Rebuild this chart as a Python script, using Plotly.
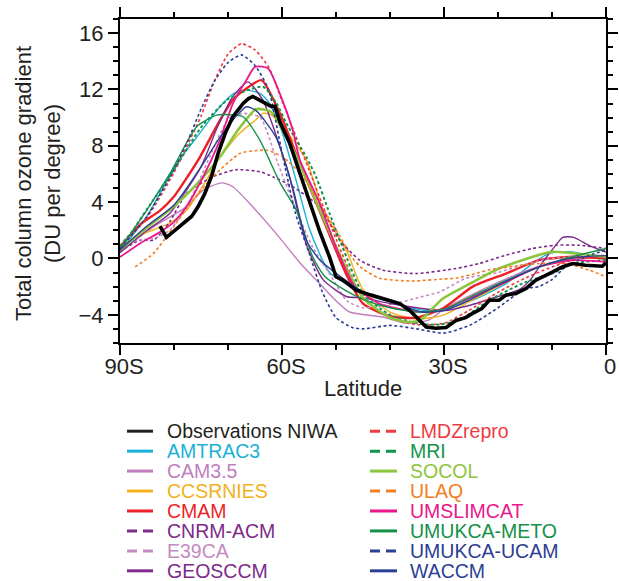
import plotly.graph_objects as go

# ---------------- data ----------------
lat_obs = [-82.6, -81.4, -79.5, -76.7, -75.5, -74.3, -73.0, -71.8, -70.5, -69.1, -67.2, -66.2, -65.4,
           -64.1, -62.9, -62.0, -61.3, -60.4, -58.6, -56.7, -54.3, -53.0, -51.2, -50.0, -48.7, -46.3,
           -43.5, -41.3, -38.2, -36.4, -34.5, -33.3, -31.5, -29.6, -27.8, -26.0, -24.7, -23.0, -21.6,
           -19.8, -18.5, -16.7, -14.8, -13.0, -10.5, -8.1, -6.2, -3.8, -0.7, 0.0]
obs = [2.3, 1.5, 2.1, 3.0, 3.7, 4.6, 5.9, 7.5, 8.9, 10.06, 11.0, 11.35, 11.5,
       11.24, 11.0, 10.8, 10.8, 9.7, 8.2, 6.1, 3.3, 1.9, 0.1, -1.3, -1.54, -2.25,
       -2.6, -2.84, -3.2, -3.67, -4.38, -4.86, -4.95, -4.9, -4.4, -4.2, -3.9, -3.55, -2.96,
       -2.96, -2.6, -2.49, -2.13, -1.54, -1.07, -0.6, -0.36, -0.48, -0.55, -0.3]

lat_amtrac3 = [-90, -85, -79.5, -75.8, -71.5, -69, -66.6, -64, -62.3, -60, -57, -55, -53, -51.2, -45,
               -38.9, -33.9, -30, -24.7, -18.5, -13.6, -10.5, -6.2, 0]
amtrac3 = [0.5, 3.0, 6.75, 8.6, 10.77, 11.7, 11.95, 11.7, 11.0, 9.0, 5.0, 2.2, 0.3, -1.0, -2.49,
           -3.2, -3.67, -3.6, -2.96, -1.78, -0.36, 0.36, 0.47, -0.1]

lat_cam35 = [-90, -83.8, -77.7, -74.6, -71.2, -69.1, -65.4, -61.1, -56.7, -53, -50, -47.5, -41.4,
             -37, -33, -30, -25, -20, -15, -10, -5, 0]
cam35 = [0.5, 2.24, 3.66, 4.85, 5.37, 5.09, 3.66, 1.78, -0.3, -1.8, -3.0, -3.8, -4.15,
         -4.6, -4.4, -3.6, -2.6, -1.7, -0.9, -0.3, 0.0, 0.1]

lat_ccsrnies = [-90, -86.3, -80.8, -77.7, -74, -71.5, -67.8, -65, -63.5, -62, -60.4, -55.5, -52.4,
                -48, -45, -40, -35, -30, -25, -20, -15, -10, -5, 0]
ccsrnies = [0.7, 1.65, 2.5, 3.4, 5.56, 7.2, 8.9, 9.8, 10.3, 10.2, 9.6, 7.0, 3.4,
            0.5, -2.2, -3.8, -4.3, -4.0, -3.0, -2.0, -1.0, -0.3, 0.1, 0.2]

lat_cmam = [-90, -86.3, -82.6, -80, -77.5, -75.2, -71.5, -69, -66.6, -63.8, -60.4, -56.7, -51.8,
            -48, -45, -40, -35, -30, -24.7, -18.5, -12.4, -6.3, 0]
cmam = [0.8, 2.4, 3.4, 4.4, 5.8, 7.2, 9.8, 11.3, 12.07, 12.66, 10.3, 6.75, 2.24,
        -1.2, -3.2, -4.1, -4.2, -3.5, -2.0, -1.07, -0.12, 0.12, 0.0]

lat_cnrm = [-90, -86.3, -83.8, -80.8, -77.7, -72.8, -68.5, -64, -61.7, -58, -53, -49.3, -45.6,
            -41.3, -35.2, -27.8, -23.5, -18.5, -13.6, -9.3, -5, 0]
cnrm = [0.5, 1.3, 1.3, 2.6, 4.6, 5.8, 6.3, 6.15, 5.8, 5.1, 3.66, 1.3, -0.12,
        -0.83, -1.07, -0.71, -0.36, 0.24, 0.71, 0.94, 0.94, 0.71]

lat_e39ca = [-90, -86.9, -83.8, -80.8, -77.5, -75, -72.5, -69.7, -67, -64, -61, -58, -54.3, -51,
             -48, -45, -42, -38, -35, -30.8, -25.9, -20, -15, -10, -5, 0]
e39ca = [0.6, 1.3, 1.42, 2.0, 3.8, 5.8, 8.0, 10.0, 10.3, 10.0, 7.0, 4.0, 0.8, -1.2,
         -3.0, -3.5, -3.4, -3.1, -2.8, -2.37, -1.4, -1.0, -0.4, 0.0, 0.15, 0.24]

lat_geosccm = [-90, -85, -80.8, -75, -72, -69.1, -66.3, -63.5, -60, -58.6, -55.5, -52.4, -48.1,
               -45, -40, -35, -30, -25, -20, -16, -14, -12, -10, -8, -6, -3, 0]
geosccm = [0.4, 2.0, 3.2, 6.5, 9.3, 11.5, 12.54, 11.2, 7.5, 5.8, 1.0, -1.5, -2.7,
           -2.8, -3.2, -3.5, -3.7, -3.3, -2.7, -2.2, -1.5, -0.4, 0.6, 1.5, 1.5, 0.9, 0.45]

lat_lmdz = [-90, -85, -80, -75, -72.5, -70, -67.5, -65, -62.5, -60, -55, -50, -45, -40, -35, -30,
            -25, -20, -15, -10, -5, 0]
lmdz = [0.8, 2.9, 6.1, 10.1, 12.6, 14.5, 15.25, 14.8, 13.6, 11.2, 6.3, 1.4, -2.8, -4.2, -4.7, -4.6,
        -3.6, -2.4, -1.4, -0.6, 0.0, 0.2]

lat_mri = [-90, -87.6, -85, -80, -75, -70, -66, -63.5, -61, -59.2, -55.5, -53.7, -51.2, -48.8, -45,
           -40, -35, -31, -27.2, -21.6, -15.5, -9.3, -6.3, 0]
mri = [0.9, 2.0, 3.5, 6.3, 9.3, 11.3, 12.0, 12.19, 11.0, 9.6, 7.2, 5.8, 3.2, 0.82, -2.5,
       -4.0, -4.6, -4.7, -4.38, -2.96, -1.78, -0.95, -0.36, -0.12]

lat_socol = [-90, -85, -80, -75, -71.5, -68, -64.8, -62, -60, -57, -54.3, -49.4, -45, -40, -37,
             -34.5, -30.2, -25, -19.8, -10, -3.1, 0]
socol = [0.6, 2.2, 3.7, 5.6, 7.2, 9.2, 10.6, 10.4, 9.2, 7.0, 4.6, 0.36, -2.8, -4.2, -4.5,
         -4.4, -2.84, -1.75, -0.71, 0.47, 0.24, 0.12]

lat_ulaq = [-87.2, -83.8, -80.1, -76.5, -72.8, -67.8, -65, -62.9, -59.8, -56.1, -52.4, -49.3, -46.9,
            -45, -42, -36, -30, -27.8, -23.5, -21.6, -12.4, -7.5, -3.1, 0]
ulaq = [-0.6, 0.36, 2.24, 4.14, 5.8, 7.46, 7.65, 7.7, 7.2, 5.8, 3.5, 1.6, 0.0,
        -0.75, -1.4, -1.6, -1.45, -1.4, -1.0, -0.8, -0.36, -0.36, -0.83, -1.3]

lat_umslimcat = [-90, -86.3, -82.5, -80, -77.5, -75, -71.5, -69.1, -66.6, -65, -62.6, -60.4, -58,
                 -56.7, -53, -50, -46.5, -42, -38, -34, -30, -24.7, -18.5, -12.4, -6.3, 0]
umslimcat = [0.1, 1.07, 1.9, 2.6, 3.8, 5.5, 8.4, 11.0, 12.66, 13.6, 13.5, 11.7, 9.1,
             7.0, 3.9, 0.8, -2.0, -3.2, -3.6, -3.8, -3.6, -2.73, -1.66, -0.6, -0.12, -0.24]

lat_meto = [-90, -87.6, -85.1, -80.8, -75.8, -72.1, -69.5, -67.2, -64.1, -60.4, -57.3, -54.3, -52,
            -48.1, -45, -40, -35, -30, -25, -20, -15, -10, -6.3, 0]
meto = [0.6, 2.0, 3.4, 6.0, 9.35, 10.18, 10.2, 10.06, 8.4, 5.4, 3.4, 0.1, -1.3,
        -2.3, -2.9, -3.5, -3.8, -3.6, -2.7, -1.8, -1.0, -0.3, 0.12, 0.71]

lat_ucam = [-90, -85, -80, -77.5, -75, -72.5, -70, -67.5, -65, -62.5, -60, -57.5, -55, -52.5, -50,
            -47, -45, -40, -35, -30, -25, -20, -15, -12.5, -10, -7.5, -5, -2.5, 0]
ucam = [0.7, 3.0, 6.3, 8.3, 10.6, 12.6, 13.9, 14.45, 13.7, 12.0, 7.5, 3.2, 0.4, -2.4, -4.2,
        -4.9, -5.0, -4.75, -5.0, -5.3, -4.7, -3.5, -2.15, -2.0, -1.5, -0.6, -0.1, 0.3, 0.6]

lat_waccm = [-90, -85, -80, -75, -71.5, -68, -66.6, -64.8, -61.1, -58, -55.5, -53, -45, -38.9,
             -34, -30, -25, -20, -15, -10, -5, 0]
waccm = [0.6, 2.3, 3.8, 6.5, 8.6, 10.3, 10.77, 10.5, 8.6, 5.0, 1.3, -0.1, -2.37, -3.2,
         -3.8, -3.7, -2.9, -1.9, -1.0, -0.3, 0.1, 0.2]

x_tickvals = [-90, -60, -30, 0]
x_ticktext = ["90S", "60S", "30S", "0"]

# ---------------- series styling ----------------
# (name, lat, values, color, dashed, width)
series = [
    ("AMTRAC3", lat_amtrac3, amtrac3, "#1BB1D4", False, 1.4),
    ("CAM3.5", lat_cam35, cam35, "#C07EBE", False, 1.4),
    ("CCSRNIES", lat_ccsrnies, ccsrnies, "#F2B11E", False, 1.4),
    ("CMAM", lat_cmam, cmam, "#EE1F26", False, 2.4),
    ("CNRM-ACM", lat_cnrm, cnrm, "#7D2B8B", True, 1.6),
    ("E39CA", lat_e39ca, e39ca, "#C48BC3", True, 1.6),
    ("GEOSCCM", lat_geosccm, geosccm, "#7D2B8B", False, 1.4),
    ("LMDZrepro", lat_lmdz, lmdz, "#EF3A3F", True, 1.6),
    ("MRI", lat_mri, mri, "#119548", True, 2.0),
    ("SOCOL", lat_socol, socol, "#8CC63E", False, 2.6),
    ("ULAQ", lat_ulaq, ulaq, "#F47E21", True, 1.6),
    ("UMSLIMCAT", lat_umslimcat, umslimcat, "#EC168C", False, 1.8),
    ("UMUKCA-METO", lat_meto, meto, "#149147", False, 1.4),
    ("UMUKCA-UCAM", lat_ucam, ucam, "#2C3D92", True, 1.6),
    ("WACCM", lat_waccm, waccm, "#2B3F95", False, 1.4),
]
obs_entry = ("Observations NIWA", lat_obs, obs, "#000000", False, 3.6)

fig = go.Figure()
for name, la, va, col, dashed, w in series:
    fig.add_trace(go.Scatter(
        x=la, y=va, mode="lines", name=name, showlegend=False,
        line=dict(color=col, width=w, dash="3px,2.5px" if dashed else "solid",
                  shape="spline", smoothing=0.6)))
fig.add_trace(go.Scatter(
    x=lat_obs, y=obs, mode="lines", name=obs_entry[0], showlegend=False,
    line=dict(color="#000000", width=3.6)))

# ---------------- layout ----------------
W, H = 619, 581
PL, PR, PT, PB = 120, 606, 18.5, 343.3


def fx(px):
    return (px - PL) / (PR - PL)


def fy(py):
    return (PB - py) / (PB - PT)


FONT = "Liberation Sans, Arial, Helvetica, sans-serif"
TXT = "#231F20"
axis_common = dict(
    showline=True, linecolor="black", linewidth=2, mirror="ticks",
    ticks="outside", ticklen=10, tickwidth=1.8, tickcolor="black",
    showgrid=False, zeroline=False, automargin=False,
    tickfont=dict(family=FONT, size=22, color=TXT),
)
fig.update_xaxes(range=[-90, 0], tickmode="array", tickvals=x_tickvals, ticktext=x_ticktext,
                 ticklabelstandoff=-7, ticklabelshift=4,
                 minor=dict(dtick=10, tick0=0, ticks="outside", ticklen=5, tickwidth=1.8,
                            tickcolor="black", showgrid=False),
                 **axis_common)
fig.update_yaxes(range=[-6, 17], tick0=0, dtick=4,
                 minor=dict(dtick=1, tick0=0, ticks="outside", ticklen=5, tickwidth=1.8,
                            tickcolor="black", showgrid=False),
                 **axis_common)

annotations = [
    dict(text="Latitude", x=fx(363), y=fy(389), xref="paper", yref="paper", showarrow=False,
         xanchor="center", yanchor="middle", font=dict(family=FONT, size=22, color=TXT)),
    dict(text="Total column ozone gradient<br>(DU per degree)", x=fx(38), y=fy(184),
         xref="paper", yref="paper", showarrow=False, textangle=-90,
         xanchor="center", yanchor="middle", font=dict(family=FONT, size=22, color=TXT)),
]
shapes = []

# manual two-column legend
legend_items = [obs_entry] + series
col_x = [(127, 153, 165), (370, 397, 408)]
row0, row_step = 431.7, 20.0
for i, (name, la, va, col, dashed, w) in enumerate(legend_items):
    c, r = divmod(i, 8)
    x0, x1, xt = col_x[c]
    yy = row0 + r * row_step
    ccol = col if col != "#000000" else TXT
    shapes.append(dict(type="line", xref="paper", yref="paper", x0=fx(x0), x1=fx(x1),
                       y0=fy(yy), y1=fy(yy),
                       line=dict(color=ccol, width=3,
                                 dash="10px,6px" if dashed else "solid")))
    annotations.append(dict(text=name, x=fx(xt), y=fy(yy), xref="paper", yref="paper",
                            showarrow=False, xanchor="left", yanchor="middle",
                            font=dict(family=FONT, size=19.5, color=ccol)))

fig.update_layout(
    width=W, height=H, autosize=False,
    margin=dict(l=PL, r=W - PR, t=PT, b=H - PB, pad=0, autoexpand=False),
    paper_bgcolor="white", plot_bgcolor="white",
    showlegend=False,
    annotations=annotations, shapes=shapes,
    font=dict(family=FONT),
)

fig.write_html("out.html")
